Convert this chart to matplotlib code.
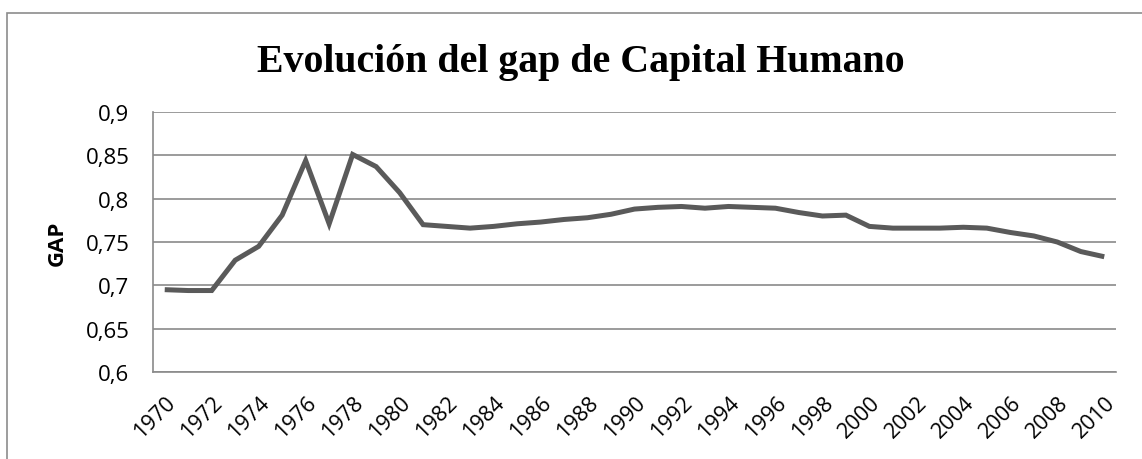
import numpy as np
import matplotlib
matplotlib.use("Agg")
import matplotlib.pyplot as plt
from matplotlib.patches import Rectangle

years = list(range(1970, 2011))
gap = [0.695, 0.694, 0.694, 0.729, 0.745, 0.781, 0.844, 0.771, 0.851, 0.837,
       0.807, 0.770, 0.768, 0.766, 0.768, 0.771, 0.773, 0.776, 0.778, 0.782,
       0.788, 0.790, 0.791, 0.789, 0.791, 0.790, 0.789, 0.784, 0.780, 0.781,
       0.768, 0.766, 0.766, 0.766, 0.767, 0.766, 0.761, 0.757, 0.750, 0.739,
       0.733]
yticks = [0.6, 0.65, 0.7, 0.75, 0.8, 0.85, 0.9]
ytick_labels = ["0,6", "0,65", "0,7", "0,75", "0,8", "0,85", "0,9"]

W, H = 1142, 460
fig = plt.figure(figsize=(W / 100, H / 100), dpi=100)

# chart border (only top and left edges fall inside the picture)
fig.patches.append(Rectangle((7 / W, -0.2), 1.5, 1 - 14 / H + 0.2,
                             transform=fig.transFigure, fill=False,
                             edgecolor="#8c8c8c", linewidth=1.2))

ax = fig.add_axes([153 / W, 1 - 373 / H, (1116 - 153) / W, (373 - 113) / H])
x = np.arange(len(years))
ax.plot(x, gap, color="#5a5a5a", linewidth=3.6, solid_joinstyle="miter",
        solid_capstyle="butt", zorder=3)

ax.set_xlim(-0.5, len(years) - 0.5)
ax.set_ylim(0.6, 0.9)
ax.set_yticks(yticks)
ax.set_yticklabels(ytick_labels, fontfamily="Open Sans", fontsize=16)
ax.set_xticks(x[::2])
ax.set_xticklabels([str(y) for y in years[::2]], rotation=45, ha="right",
                   va="top", rotation_mode="anchor",
                   fontfamily="Open Sans", fontsize=15.6)
ax.tick_params(axis="both", length=0)
ax.tick_params(axis="y", pad=17)
ax.tick_params(axis="x", pad=14)
ax.grid(axis="y", color="#8a8a8a", linewidth=1.2)
ax.set_axisbelow(True)
for s in ["top", "right"]:
    ax.spines[s].set_visible(False)
for s in ["left", "bottom"]:
    ax.spines[s].set_color("#8a8a8a")
    ax.spines[s].set_linewidth(1.2)

fig.text(57 / W, 1 - 243 / H, "GAP", rotation=90, ha="center", va="center",
         fontfamily="Open Sans", fontweight="bold", fontsize=16)
fig.text(581 / W, 1 - 72 / H, "Evolución del gap de Capital Humano",
         ha="center", va="baseline", fontfamily="Liberation Serif",
         fontweight="bold", fontsize=28.7)

fig.savefig("out.png", dpi=100)
